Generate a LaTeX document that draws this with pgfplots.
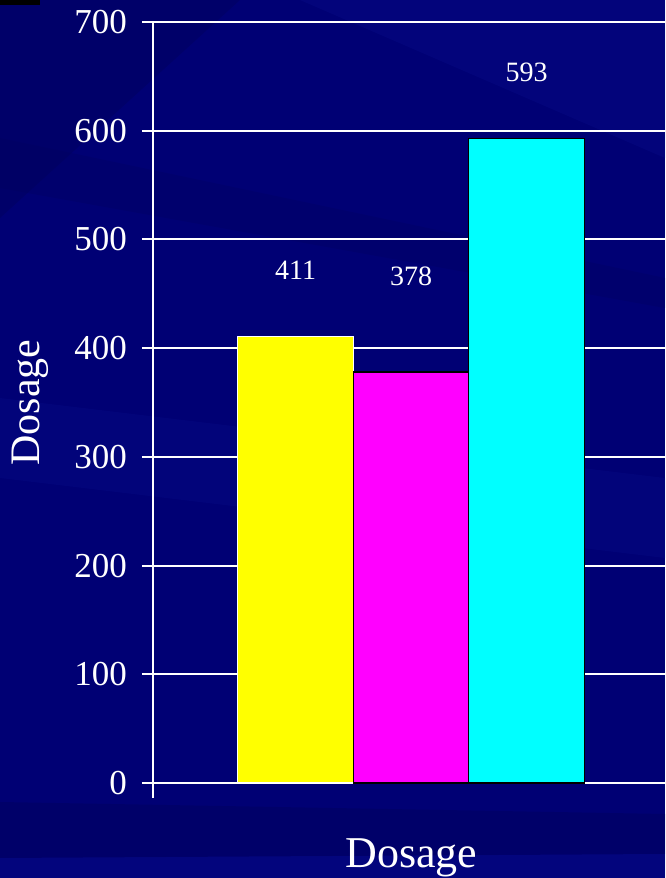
\documentclass[border=0pt]{standalone}
\usepackage{pgfplots}
\pgfplotsset{compat=1.18}
\usepackage{fontspec}
\setmainfont{Liberation Serif}
\definecolor{navy}{RGB}{0,0,116}
\definecolor{navydark}{RGB}{0,0,96}
\definecolor{navylight}{RGB}{10,16,142}
\definecolor{baryellow}{RGB}{255,255,0}
\definecolor{barmagenta}{RGB}{255,0,255}
\definecolor{barcyan}{RGB}{0,255,255}
\begin{document}
\begin{tikzpicture}
% page frame and background
\clip (0,0) rectangle (332.5pt,439pt);
\fill[navy] (0,0) rectangle (332.5pt,439pt);
\fill[navydark,opacity=0.5] (0,439pt) -- (120pt,439pt) -- (0,330pt) -- cycle;
\fill[navylight,opacity=0.3] (150pt,439pt) -- (332.5pt,439pt) -- (332.5pt,360pt) -- cycle;
\fill[navydark,opacity=0.35] (0,370pt) -- (332.5pt,300pt) -- (332.5pt,285pt) -- (0,345pt) -- cycle;
\fill[navylight,opacity=0.25] (0,240pt) -- (332.5pt,200pt) -- (332.5pt,160pt) -- (0,200pt) -- cycle;
\fill[navydark,opacity=0.5] (0,38pt) -- (332.5pt,32pt) -- (332.5pt,12pt) -- (0,10pt) -- cycle;
\fill[navylight,opacity=0.35] (0,10pt) -- (332.5pt,12pt) -- (332.5pt,0) -- (0,0) -- cycle;
\fill[black] (0,436.5pt) rectangle (20pt,439pt);
\begin{axis}[
  at={(76.5pt,47.5pt)}, anchor=south west,
  scale only axis, width=273.5pt, height=380.5pt,
  xmin=-0.234, xmax=4.502, ymin=0, ymax=700,
  axis lines*=left, axis line style={white, line width=1pt},
  x axis line style={-}, y axis line style={-},
  ytick={0,100,...,700}, xtick=\empty,
  ymajorgrids, grid style={white, line width=1pt},
  major tick length=5.5pt, tick style={white, line width=1pt},
  tick align=outside,
  /pgf/number format/assume math mode=true,
  yticklabel style={font=\fontsize{17.5}{17.5}\selectfont, text=white, xshift=-4pt},
  ylabel={Dosage}, xlabel={Dosage},
  every axis y label/.style={at={(axis description cs:-0.225,0.5)}, rotate=90, anchor=center,
    font=\fontsize{21}{21}\selectfont, text=white},
  every axis x label/.style={at={(axis description cs:0.5,0)}, anchor=north, yshift=-24.5pt, xshift=-7.5pt,
    font=\fontsize{22}{22}\selectfont, text=white},
  ybar, bar width=57.75pt, bar shift=0pt,
  nodes near coords, every node near coord/.append style={font=\fontsize{14}{14}\selectfont, text=white, anchor=center},
  clip=false,
]
\addplot[fill=baryellow, draw=white, line width=0.6pt, every node near coord/.append style={yshift=33pt}] coordinates {(1,411)};
\addplot[fill=barmagenta, draw=black, line width=0.6pt, every node near coord/.append style={yshift=48pt}] coordinates {(2,378)};
\addplot[fill=barcyan, draw=black, line width=0.6pt, every node near coord/.append style={yshift=33pt}] coordinates {(3,593)};
\draw[white, line width=1pt] (axis cs:-0.234,0) -- ([yshift=-7.5pt]axis cs:-0.234,0);
\end{axis}
\end{tikzpicture}
\end{document}
